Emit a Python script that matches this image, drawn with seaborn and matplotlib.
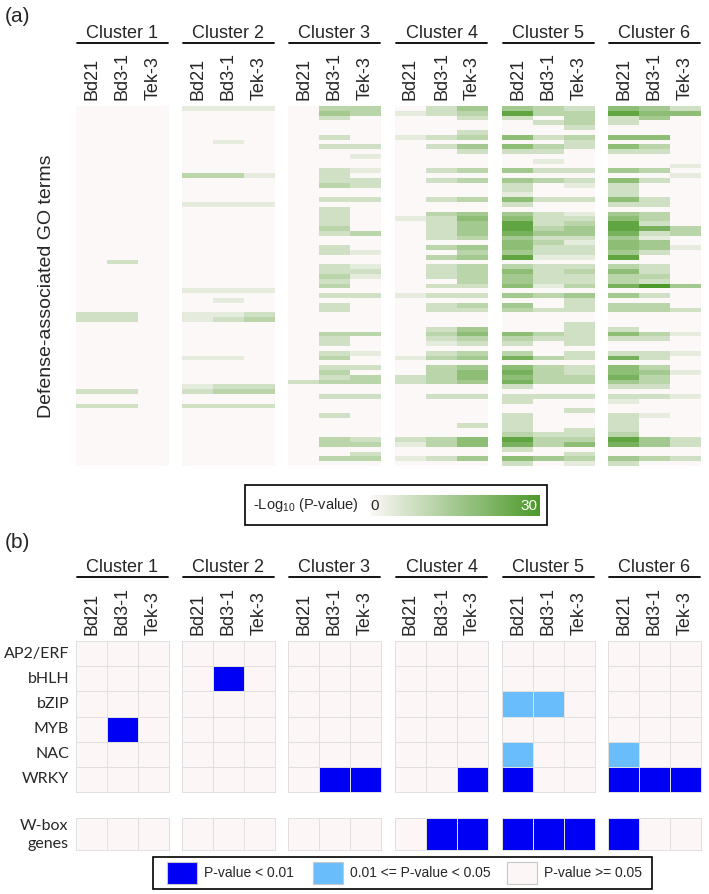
import numpy as np
import pandas as pd
import matplotlib
matplotlib.use("Agg")
import matplotlib.pyplot as plt
import seaborn as sns
from matplotlib.colors import LinearSegmentedColormap, ListedColormap
from matplotlib.lines import Line2D
from matplotlib.patches import Rectangle

sns.set_theme(style="white")
plt.rcParams["font.family"] = ["Liberation Sans", "DejaVu Sans"]
plt.rcParams["mathtext.fontset"] = "custom"
plt.rcParams["mathtext.rm"] = "Liberation Sans"

clusters = ["Cluster 1", "Cluster 2", "Cluster 3", "Cluster 4", "Cluster 5", "Cluster 6"]
strains = ["Bd21", "Bd3-1", "Tek-3"]
tf_families = ["AP2/ERF", "bHLH", "bZIP", "MYB", "NAC", "WRKY"]

# (a) -log10(P) enrichment level per GO term (0-8, 8 ~ 30), 75 terms top to bottom,
# one string per strain (Bd21, Bd3-1, Tek-3), grouped by 5 terms
go_c1 = [
    "00000 00000 00000 00000 00000 00000 00000 00000 00022 00000 00000 00002 00200 00000 00000",
    "00000 00000 00000 00000 00000 00000 00200 00000 00022 00000 00000 00002 00200 00000 00000",
    "00000 00000 00000 00000 00000 00000 00000 00000 00000 00000 00000 00000 00000 00000 00000",
]
go_c2 = [
    "10000 00000 00003 00000 10000 00000 00000 00010 00011 00000 00100 00012 00200 00000 00000",
    "10000 00100 00003 00000 10000 00000 00000 00010 10012 00000 00100 00023 00200 00000 00000",
    "10000 00000 00001 00000 10000 00000 00000 00010 00023 00000 00000 00023 00200 00000 00000",
]
go_c3 = [
    "00000 00000 00000 00000 00000 00000 00000 00000 00000 00000 00000 00200 00000 00000 00000",
    "34200 02020 00022 23002 02222 32002 20022 32302 02200 00322 02302 32300 20002 00003 30030",
    "33000 00020 10010 22002 00000 03000 10012 10002 00000 00300 01002 03300 20000 00002 30230",
]
go_c4 = [
    "01000 01000 00000 00000 00010 00000 00000 00001 00000 00000 00100 02200 00000 00002 10010",
    "22000 02020 00020 20002 00322 22203 03022 20202 02200 02321 02303 33300 20000 00003 30020",
    "43200 23042 00030 30003 00454 44304 34033 33202 03200 04532 03404 55400 20000 02005 50040",
]
go_c5 = [
    "47200 05052 00040 42215 20457 76455 47035 44504 04300 00532 03605 65620 22002 22237 62052",
    "33020 02032 01020 30002 00222 34232 21022 22103 00200 00320 00303 33300 20000 00023 30040",
    "23332 03220 00020 21002 00123 44212 21023 22304 22200 22222 02202 23300 20020 00223 50231",
]
go_c6 = [
    "57220 05052 00040 52225 20457 76455 47035 33604 03300 02520 02605 56420 21002 22237 60042",
    "45400 05032 00030 20002 20332 62144 20022 32802 03300 00320 02203 43320 20001 00004 40030",
    "25000 00000 00101 00000 00000 33001 00000 00400 00200 00100 01000 10000 10000 00002 20020",
]
go_levels = [go_c1, go_c2, go_c3, go_c4, go_c5, go_c6]

# (b) TF family enrichment: 0 = P >= 0.05, 1 = 0.01 <= P < 0.05, 2 = P < 0.01
tf_c1 = [[0, 0, 0], [0, 0, 0], [0, 0, 0], [0, 2, 0], [0, 0, 0], [0, 0, 0]]
tf_c2 = [[0, 0, 0], [0, 2, 0], [0, 0, 0], [0, 0, 0], [0, 0, 0], [0, 0, 0]]
tf_c3 = [[0, 0, 0], [0, 0, 0], [0, 0, 0], [0, 0, 0], [0, 0, 0], [0, 2, 2]]
tf_c4 = [[0, 0, 0], [0, 0, 0], [0, 0, 0], [0, 0, 0], [0, 0, 0], [0, 0, 2]]
tf_c5 = [[0, 0, 0], [0, 0, 0], [1, 1, 0], [0, 0, 0], [1, 0, 0], [2, 0, 0]]
tf_c6 = [[0, 0, 0], [0, 0, 0], [0, 0, 0], [0, 0, 0], [1, 0, 0], [2, 2, 2]]
tf_levels = [tf_c1, tf_c2, tf_c3, tf_c4, tf_c5, tf_c6]
wbox_levels = [[0, 0, 0], [0, 0, 0], [0, 0, 0], [0, 2, 2], [2, 2, 2], [2, 0, 0]]

legend_labels = ["P-value < 0.01", "0.01 <= P-value < 0.05", "P-value >= 0.05"]

go_cmap = LinearSegmentedColormap.from_list("go", ["#FCF8F7", "#4C9A2A"])
p_colors = ["#FCF7F6", "#6ABDFB", "#0000F5"]
p_cmap = ListedColormap(p_colors)
grid_color = "#E0E0E0"

W, H = 709, 894
fig = plt.figure(figsize=(W / 100, H / 100), dpi=100)


def px_axes(x, y, w, h):
    return fig.add_axes([x / W, 1 - (y + h) / H, w / W, h / H])


def ftext(x, y, s, **kw):
    return fig.text(x / W, 1 - y / H, s, **kw)


def hline(x0, x1, y, lw=1.3):
    fig.add_artist(Line2D([x0 / W, x1 / W], [1 - y / H, 1 - y / H],
                          transform=fig.transFigure, color="black", lw=lw))


def box(x, y, w, h, **kw):
    fig.add_artist(Rectangle((x / W, 1 - (y + h) / H), w / W, h / H,
                             transform=fig.transFigure, **kw))


col_left = [76, 182, 288, 395, 502, 608]
col_w = 93

# ---------------- panel (a) ----------------
ftext(5, 16, "(a)", fontsize=15, va="center")
for i, name in enumerate(clusters):
    x0 = col_left[i]
    rows = ["".join(s.split()) for s in go_levels[i]]
    mat = np.array([[int(c) for c in s] for s in rows]).T * 3.75
    df = pd.DataFrame(mat, columns=strains)
    ax = px_axes(x0, 106, col_w, 360)
    sns.heatmap(df, ax=ax, cmap=go_cmap, vmin=0, vmax=30, cbar=False,
                xticklabels=True, yticklabels=False)
    ax.xaxis.tick_top()
    ax.set_xticklabels(strains, rotation=90, fontsize=13)
    ax.tick_params(axis="x", length=0, pad=4)
    ftext(x0 + col_w / 2, 33, name, ha="center", va="center", fontsize=13)
    hline(x0 + 1, x0 + col_w - 1, 43)

ftext(47, 286, "Defense-associated GO terms", rotation=90, ha="center",
      va="center", fontsize=14)

# colour legend
box(245, 485, 302, 40, fill=False, ec="black", lw=1.2)
ftext(253, 505, "-Log$_{10}$ (P-value)", va="center", fontsize=10.5)
gax = px_axes(370, 495, 170, 21)
gax.imshow(np.linspace(0, 30, 256)[None, :], cmap=go_cmap, aspect="auto")
gax.axis("off")
ftext(375, 506, "0", ha="center", va="center", fontsize=11)
ftext(537, 506, "30", ha="right", va="center", fontsize=11, color="white")

# ---------------- panel (b) ----------------
ftext(5, 543, "(b)", fontsize=15, va="center")
for i, name in enumerate(clusters):
    x0 = col_left[i]
    ax = px_axes(x0, 641, col_w, 151)
    df = pd.DataFrame(tf_levels[i], index=tf_families, columns=strains)
    sns.heatmap(df, ax=ax, cmap=p_cmap, vmin=-0.5, vmax=2.5, cbar=False,
                linewidths=0.6, linecolor=grid_color,
                xticklabels=True, yticklabels=(i == 0))
    ax.collections[0].set_clip_on(False)
    ax.xaxis.tick_top()
    ax.set_xticklabels(strains, rotation=90, fontsize=13)
    ax.tick_params(axis="x", length=0, pad=4)
    ax.tick_params(axis="y", length=0, pad=5)
    if i == 0:
        ax.set_yticklabels(tf_families, rotation=0, fontsize=11.5,
                           fontfamily="Lato")
    ftext(x0 + col_w / 2, 567, name, ha="center", va="center", fontsize=13)
    hline(x0 + 1, x0 + col_w - 1, 577)

    wax = px_axes(x0, 818, col_w, 32)
    wdf = pd.DataFrame([wbox_levels[i]], index=["W-box genes"], columns=strains)
    sns.heatmap(wdf, ax=wax, cmap=p_cmap, vmin=-0.5, vmax=2.5, cbar=False,
                linewidths=0.6, linecolor=grid_color,
                xticklabels=False, yticklabels=False)
    wax.collections[0].set_clip_on(False)

ftext(68, 826, "W-box", ha="right", va="center", fontsize=11.5, fontfamily="Lato")
ftext(68, 844, "genes", ha="right", va="center", fontsize=11.5, fontfamily="Lato")

# category legend
box(153, 857, 499, 32, fill=False, ec="black", lw=1.2)
for x_patch, label, color in zip([167, 313, 507], legend_labels, p_colors[::-1]):
    box(x_patch, 862, 30, 22, fc=color, ec="#C8C8C8", lw=0.8)
    ftext(x_patch + 37, 873, label, va="center", fontsize=10)

fig.savefig("out.png", dpi=100)
